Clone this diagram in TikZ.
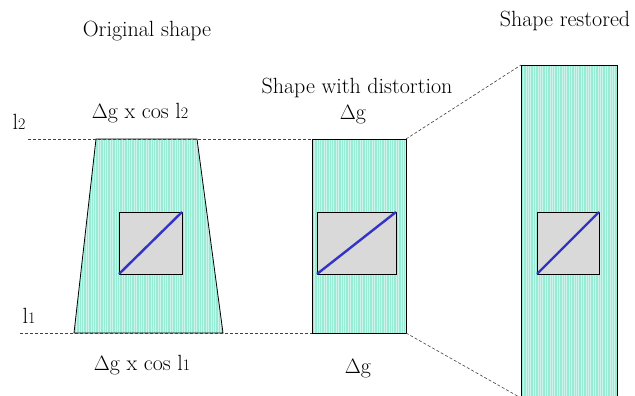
\documentclass[tikz,border=0pt]{standalone}
\usepackage{fontspec}
\definecolor{mint}{RGB}{152,236,214}
\definecolor{boxgray}{RGB}{217,217,217}
\definecolor{diagblue}{RGB}{51,51,200}
\newcommand{\lsub}[1]{l{\fontsize{16}{16}\selectfont #1}}
\tikzset{
  stripes/.style={path picture={\foreach \i in {0,2.4,...,240}
      \draw[white, line width=0.6pt, opacity=0.5]
        ([xshift=\i pt]path picture bounding box.south west) -- ++(0,500pt);}},
  striped/.style={fill=mint, draw=black, line width=0.8pt, stripes},
  inner/.style={fill=boxgray, draw=black, line width=0.8pt},
  diag/.style={draw=diagblue, line width=2.4pt},
  guide/.style={draw=black!75, line width=0.6pt, dash pattern=on 3pt off 2pt},
  lbl/.style={inner sep=0pt, anchor=base, font=\fontsize{22}{26}\selectfont}
}
\begin{document}
\begin{tikzpicture}[x=1pt,y=-1pt]
\useasboundingbox (0,0) rectangle (635,396);
% shapes
\path[striped] (96,139) -- (197,139) -- (223,333) -- (74,333) -- cycle;
\path[striped] (312,139) rectangle (406,333);
\fill[mint, stripes] (521,65) rectangle (617,400);
\draw[line width=0.8pt] (521,400) -- (521,65) -- (617,65) -- (617,400);
% inner boxes
\path[inner] (119,212) rectangle (182,274);
\draw[diag] (119,274) -- (182,212);
\path[inner] (317,212) rectangle (396,274);
\draw[diag] (317,274) -- (396,212);
\path[inner] (537,212) rectangle (599,274);
\draw[diag] (537,274) -- (599,212);
% guide coordinates
\coordinate (t0) at (28,139);
\coordinate (t1) at (312,139);
\coordinate (b0) at (20,333);
\coordinate (b1) at (312,333);
\coordinate (mtr) at (406,139);
\coordinate (mbr) at (406,333);
\coordinate (rtl) at (521,65);
\coordinate (rbl) at (521,398);
\draw[guide] (t0) -- (t1);
\draw[guide] (b0) -- (b1);
\draw[guide] (mtr) -- (rtl);
\draw[guide] (mbr) -- (rbl);
% labels
\node[lbl] (orig) at (147,37) {Original shape};
\node[lbl] (rest) at (565,27) {Shape restored};
\node[lbl] (dist) at (357,93) {Shape with distortion};
\node[lbl] (dgtop) at (353,119) {$\Delta$g};
\node[lbl] (dgbot) at (358,373) {$\Delta$g};
\node[lbl] (cos2) at (140,118) {$\Delta$g x cos \lsub{2}};
\node[lbl] (cos1) at (142,370) {$\Delta$g x cos \lsub{1}};
\node[lbl] (l2) at (19,129) {\lsub{2}};
\node[lbl] (l1) at (29,323) {\lsub{1}};
\end{tikzpicture}
\end{document}
